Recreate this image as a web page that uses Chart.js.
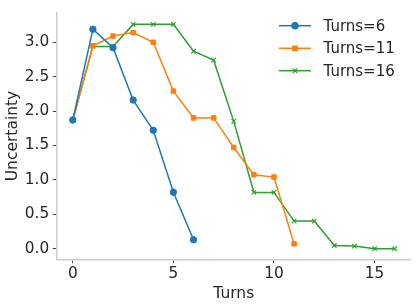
<!DOCTYPE html>
<html><head><meta charset="utf-8">
<script src="https://cdn.jsdelivr.net/npm/chart.js@4/dist/chart.umd.min.js"></script>
<style>html,body{margin:0;padding:0;background:#fff}#wrap{width:416px;height:307px}</style>
</head><body><div id="wrap"><canvas id="c"></canvas></div>
<script>
const turns6 = [1.87, 3.19, 2.92, 2.16, 1.72, 0.82, 0.13];
const turns11 = [1.87, 2.95, 3.09, 3.14, 3.00, 2.29, 1.90, 1.90, 1.47, 1.075, 1.04, 0.07];
const turns16 = [1.87, 2.94, 2.94, 3.26, 3.26, 3.26, 2.87, 2.74, 1.85, 0.817, 0.817, 0.40, 0.40, 0.046, 0.037, 0.0, 0.0];
const seriesNames = ['Turns=6', 'Turns=11', 'Turns=16'];
const xTicks = [0, 5, 10, 15];
const yTicks = [0, 0.5, 1.0, 1.5, 2.0, 2.5, 3.0];

const colors = ['#1f77b4', '#ff7f0e', '#2ca02c'];
const styles = ['circle', 'rect', 'cross'];
const toPts = a => a.map((v, i) => ({x: i, y: v}));
const TXT = '#262626';
const FONT = 'DejaVu Sans';

const mk = (idx, data) => ({
  label: seriesNames[idx], data: toPts(data),
  borderColor: colors[idx], backgroundColor: colors[idx],
  borderWidth: 1.5, pointStyle: styles[idx],
  pointRadius: 3.2,
  pointBorderWidth: idx === 2 ? 1.2 : 1,
  pointRotation: idx === 2 ? 45 : 0,
  tension: 0, fill: false
});

const legendPlugin = {
  id: 'mlegend',
  afterDraw(chart) {
    const ctx = chart.ctx;
    ctx.save();
    const rows = [25.7, 48.3, 70.7];
    chart.data.datasets.forEach((ds, i) => {
      const y = rows[i];
      ctx.strokeStyle = ds.borderColor; ctx.lineWidth = 1.5;
      ctx.beginPath(); ctx.moveTo(279, y); ctx.lineTo(311, y); ctx.stroke();
      ctx.fillStyle = ds.borderColor; ctx.strokeStyle = ds.borderColor; ctx.lineWidth = 1.2;
      Chart.helpers.drawPoint(ctx, {pointStyle: ds.pointStyle, radius: 3.2, rotation: ds.pointRotation, borderWidth: ds.pointBorderWidth}, 295, y);
      ctx.fillStyle = TXT; ctx.font = '15px "' + FONT + '"';
      ctx.textBaseline = 'middle'; ctx.textAlign = 'left';
      ctx.fillText(ds.label, 323.5, y + 1);
    });
    ctx.restore();
  }
};

new Chart(document.getElementById('c'), {
  type: 'line',
  data: { datasets: [mk(0, turns6), mk(1, turns11), mk(2, turns16)] },
  options: {
    responsive: true, maintainAspectRatio: false, animation: false,
    layout: { padding: { top: 5, right: 5, left: 0, bottom: 0 } },
    plugins: { legend: { display: false }, tooltip: { enabled: false } },
    scales: {
      x: {
        type: 'linear', min: -0.8, max: 16.8,
        afterBuildTicks: s => { s.ticks = xTicks.map(v => ({value: v})); },
        afterFit: s => { s.height = 47.7; },
        grid: { display: true, drawOnChartArea: false, drawTicks: true, tickLength: 4, color: '#444', lineWidth: 1 },
        border: { display: true, color: '#cccccc', width: 1.5 },
        ticks: { color: TXT, font: { family: FONT, size: 15.3 }, padding: 2, callback: v => String(v) },
        title: { display: true, text: 'Turns', color: TXT, font: { family: FONT, size: 15.5 }, padding: { top: 0, bottom: 4 } }
      },
      y: {
        type: 'linear', min: -0.155, max: 3.43,
        afterBuildTicks: s => { s.ticks = yTicks.map(v => ({value: v})); },
        afterFit: s => { s.width = 56.7; },
        grid: { display: true, drawOnChartArea: false, drawTicks: true, tickLength: 4, color: '#444', lineWidth: 1 },
        border: { display: true, color: '#cccccc', width: 1.5 },
        ticks: { color: TXT, font: { family: FONT, size: 15.3 }, padding: 3.5, callback: v => v.toFixed(1) },
        title: { display: true, text: 'Uncertainty', color: TXT, font: { family: FONT, size: 15.5 }, padding: { top: 4, bottom: 0 } }
      }
    }
  },
  plugins: [legendPlugin]
});
</script></body></html>
